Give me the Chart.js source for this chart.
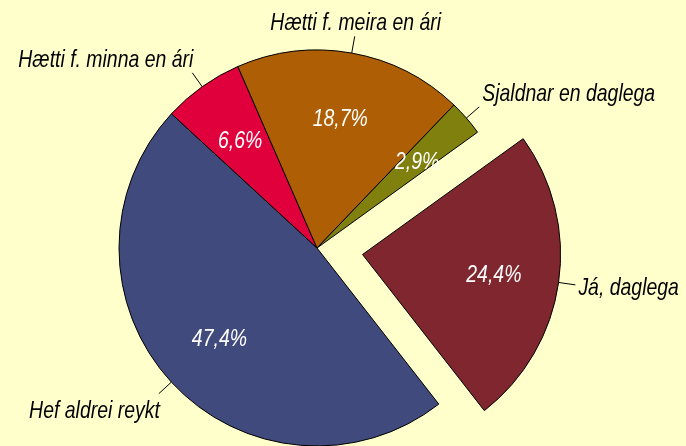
<!DOCTYPE html>
<html>
<head>
<meta charset="utf-8">
<script src="https://cdn.jsdelivr.net/npm/chart.js@4"></script>
<style>
  html, body { margin: 0; padding: 0; background: #FFFFCC; }
  #wrap { width: 686px; height: 446px; position: relative; }
</style>
</head>
<body>
<div id="wrap"><canvas id="chart"></canvas></div>
<script>
const categories = ['Já, daglega', 'Hef aldrei reykt', 'Hætti f. minna en ári', 'Hætti f. meira en ári', 'Sjaldnar en daglega'];
const shares = [24.4, 47.4, 6.6, 18.7, 2.9];
const exploded = [true, false, false, false, false];

const sliceColors = ['#80262E', '#404A7C', '#E0003C', '#AE5E04', '#80800F'];
const EXPLODE = 46;      // pixels the first slice is pulled out
const FONT = 'italic 24px "Liberation Sans", Arial, sans-serif';
const SQUEEZE = 0.81;    // narrow type like the original

function drawText(ctx, text, x, y, align, color) {
  ctx.save();
  ctx.translate(x, y);
  ctx.scale(SQUEEZE, 1);
  ctx.font = FONT;
  ctx.fillStyle = color;
  ctx.textAlign = align;
  ctx.textBaseline = 'alphabetic';
  ctx.fillText(text, 0, 0);
  ctx.restore();
}

const pieLabels = {
  id: 'pieLabels',
  afterDatasetsDraw(chart) {
    const ctx = chart.ctx;
    const meta = chart.getDatasetMeta(0);
    meta.data.forEach((arc, i) => {
      const { x, y, startAngle, endAngle, outerRadius } = arc.getProps(['x', 'y', 'startAngle', 'endAngle', 'outerRadius'], true);
      const mid = (startAngle + endAngle) / 2;
      const cos = Math.cos(mid), sin = Math.sin(mid);
      const off = exploded[i] ? EXPLODE : 0;
      const cx = x + cos * off, cy = y + sin * off;

      // value inside the slice
      const pct = shares[i].toFixed(1).replace('.', ',') + '%';
      drawText(ctx, pct, cx + cos * outerRadius * 0.67, cy + sin * outerRadius * 0.67 + 8.5, 'center', '#FFFFFF');

      // leader line and category outside
      const x1 = cx + cos * outerRadius, y1 = cy + sin * outerRadius;
      const x2 = cx + cos * (outerRadius + 17), y2 = cy + sin * (outerRadius + 17);
      ctx.save();
      ctx.strokeStyle = '#000';
      ctx.lineWidth = 1;
      ctx.beginPath();
      ctx.moveTo(x1, y1);
      ctx.lineTo(x2, y2);
      ctx.stroke();
      ctx.restore();

      let align = 'center', tx = x2 + 1;
      if (cos > 0.5) { align = 'left'; tx = x2 + 3; }
      else if (cos < -0.5) { align = 'right'; tx = x2 + 1; }
      let ty = y2 + 10;
      if (sin < -0.5) ty = y2 - 6;
      else if (sin > 0.5) ty = y2 + 24;
      drawText(ctx, categories[i], tx, ty, align, '#000000');
    });
  }
};

window.onload = () => {
  const ctx = document.getElementById('chart').getContext('2d');
  new Chart(ctx, {
    type: 'pie',
    data: {
      labels: categories,
      datasets: [{
        data: shares,
        backgroundColor: sliceColors,
        borderColor: '#000000',
        borderWidth: 1,
        offset: exploded.map(e => e ? EXPLODE * 4 : 0),
        clip: false
      }]
    },
    options: {
      responsive: true,
      maintainAspectRatio: false,
      animation: false,
      events: [],
      rotation: 54.2,
      radius: 198,
      layout: { padding: { left: 0, right: 52, top: 50, bottom: 0 } },
      plugins: { legend: { display: false }, tooltip: { enabled: false } }
    },
    plugins: [pieLabels]
  });
};
</script>
</body>
</html>
